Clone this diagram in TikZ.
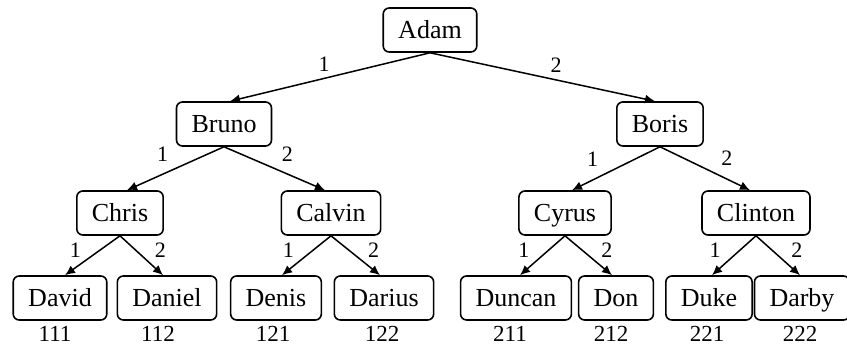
\documentclass[tikz,border=0pt]{standalone}
\usepackage{fontspec}
\setmainfont{Liberation Serif}
\usetikzlibrary{positioning,arrows.meta}

\begin{document}
\begin{tikzpicture}[
  x=0.5pt, y=-0.5pt,
  font=\fontsize{13}{15}\selectfont,
  person/.style={draw, rounded corners=3pt, line width=0.8pt, minimum height=22pt,
    inner xsep=7.5pt, text height=8.6pt, text depth=0pt},
  link/.style={line width=0.75pt, -{Latex[length=5pt,width=4.5pt]}},
  lbl/.style={font=\fontsize{11}{13}\selectfont},
  code/.style={font=\fontsize{11.5}{13}\selectfont}
]
  \useasboundingbox (0,0) rectangle (847,346);

  % Root
  \node[person] (adam) at (430,30) {Adam};

  % Second level
  \node[person] (bruno) at (224,124) {Bruno};
  \node[person] (boris) at (660,124) {Boris};

  % Third level
  \node[person] (chris) at (120,213) {Chris};
  \node[person] (calvin) at (331,213) {Calvin};
  \node[person] (cyrus) at (565,213) {Cyrus};
  \node[person] (clinton) at (756,213) {Clinton};

  % Leaves
  \node[person] (david) at (60,298) {David};
  \node[person] (daniel) at (167,298) {Daniel};
  \node[person] (denis) at (276,298) {Denis};
  \node[person] (darius) at (384,298) {Darius};
  \node[person] (duncan) at (516,298) {Duncan};
  \node[person] (don) at (616,298) {Don};
  \node[person] (duke) at (709,298) {Duke};
  \node[person] (darby) at (802,298) {Darby};

  % Codes under the leaves
  \node[code] (c111) at (55,334) {111};
  \node[code] (c112) at (158,334) {112};
  \node[code] (c121) at (273,334) {121};
  \node[code] (c122) at (382,334) {122};
  \node[code] (c211) at (510,334) {211};
  \node[code] (c212) at (611,334) {212};
  \node[code] (c221) at (707,334) {221};
  \node[code] (c222) at (800,334) {222};

  % Edges from the root
  \draw[link] (adam.south) -- node[lbl, pos=0.53, above] {1} ([xshift=3pt]bruno.north);
  \draw[link] (adam.south) -- node[lbl, pos=0.56, above] {2} ([xshift=-2.5pt]boris.north);

  % Edges to the third level
  \draw[link] (bruno.south) -- node[lbl, above left] {1} ([xshift=3.5pt]chris.north);
  \draw[link] (bruno.south) -- node[lbl, above right] {2} ([xshift=-3pt]calvin.north);
  \draw[link] (boris.south) -- node[lbl, pos=0.62, above left] {1} ([xshift=3.5pt]cyrus.north);
  \draw[link] (boris.south) -- node[lbl, pos=0.6, above right] {2} ([xshift=-3pt]clinton.north);

  % Edges to the leaves
  \draw[link] (chris.south) -- node[lbl, pos=0.36, left=6pt] {1} ([xshift=2.5pt]david.north);
  \draw[link] (chris.south) -- node[lbl, pos=0.36, right=6pt] {2} ([xshift=-2pt]daniel.north);
  \draw[link] (calvin.south) -- node[lbl, pos=0.36, left=6pt] {1} ([xshift=3pt]denis.north);
  \draw[link] (calvin.south) -- node[lbl, pos=0.36, right=6pt] {2} ([xshift=-2pt]darius.north);
  \draw[link] (cyrus.south) -- node[lbl, pos=0.36, left=6pt] {1} ([xshift=2pt]duncan.north);
  \draw[link] (cyrus.south) -- node[lbl, pos=0.36, right=6pt] {2} ([xshift=-2pt]don.north);
  \draw[link] (clinton.south) -- node[lbl, pos=0.36, left=6pt] {1} ([xshift=1.5pt]duke.north);
  \draw[link] (clinton.south) -- node[lbl, pos=0.36, right=6pt] {2} ([xshift=-1pt]darby.north);
\end{tikzpicture}
\end{document}
